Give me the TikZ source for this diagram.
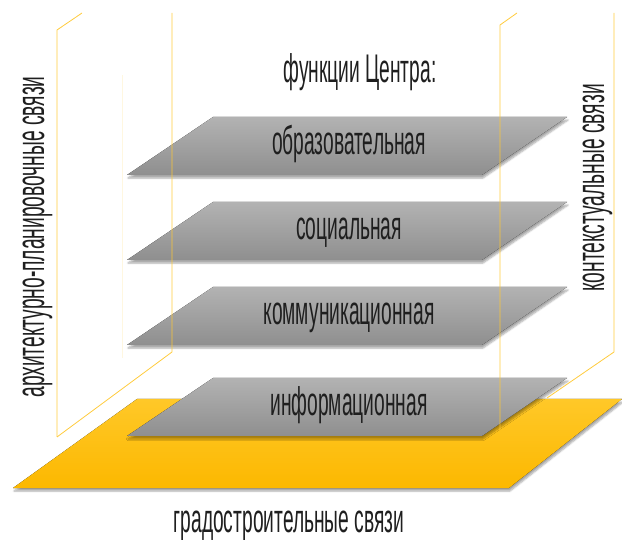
\documentclass[tikz,border=0pt]{standalone}
\usepackage{fontspec}
\newfontfamily\layerfont[FakeStretch=0.48]{Liberation Sans}
\usetikzlibrary{shadows.blur}

\definecolor{groundtop}{RGB}{255,200,40}
\definecolor{groundbot}{RGB}{252,184,0}
\definecolor{wallline}{RGB}{255,200,50}

\tikzset{
  layer/.style={top color=black!30, bottom color=black!44,
    blur shadow={shadow xshift=1pt, shadow yshift=-3pt, shadow opacity=35, shadow blur steps=6}},
  ground/.style={top color=groundtop, bottom color=groundbot,
    blur shadow={shadow xshift=1pt, shadow yshift=-3pt, shadow opacity=35, shadow blur steps=6}},
  wall/.style={draw=wallline, line width=0.8pt, draw opacity=0.95},
  caption/.style={font=\layerfont\fontsize{40}{40}\selectfont, text=black!88, inner sep=0pt, anchor=base},
}

\begin{document}
\begin{tikzpicture}[x=1pt,y=-1pt]
  \useasboundingbox (0,0) rectangle (622,540);

  % urban level
  \fill[ground] (13,488) -- (137,399) -- (622,399) -- (509,488) -- cycle;
  \node[caption] (city) at (289,532) {градостроительные связи};

  % function levels
  \foreach \t/\name [count=\i] in {117/образовательная, 202/социальная,
                                    287/коммуникационная, 378/информационная}
  {
    \fill[layer] (127,\t+58) -- (213,\t) -- (567,\t) -- (482,\t+58) -- cycle;
    \node[caption] (f\i) at (349,\t+38) {\name};
  }
  \node[caption] (title) at (360,83) {функции Центра:};

  % side walls
  \draw[wall] (57,437) -- (57,30) -- (82,13);
  \draw[wall] (172,13) -- (172,352) -- (57,437);
  \draw[wallline!15, line width=0.6pt] (122,75) -- (122,358);
  \draw[wall] (500,430) -- (500,25) -- (517,13);
  \draw[wall] (614,13) -- (614,352) -- (547,398);

  \node[caption, rotate=90] (west) at (44,237) {архитектурно-планировочные связи};
  \node[caption, rotate=90] (east) at (604,188) {контекстуальные связи};
\end{tikzpicture}
\end{document}
